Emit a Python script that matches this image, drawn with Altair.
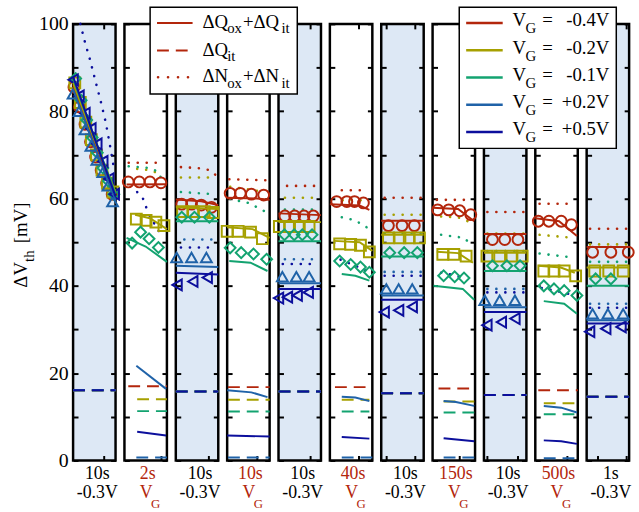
import altair as alt
import pandas as pd

# ---------------- data ----------------
VG = ["-0.4", "-0.2", "-0.1", "+0.2", "+0.5"]
VG_TEXT = ["-0.4V", "-0.2V", "-0.1V", "+0.2V", "+0.5V"]
COLORS = ["#b3260c", "#a6a000", "#13a370", "#1f62a8", "#0c0f9c"]
SHAPES = ["circle", "square", "diamond", "triangle-up", "triangle-left"]

TOP_LABELS = ["10s", "2s", "10s", "10s", "10s", "40s", "10s", "150s", "10s", "500s", "1s"]
STRESS = [False, True, False, True, False, True, False, True, False, True, False]
XTICKS = [[0.72], [0.85], [0.77], [0.69], [0.74], [0.67], [0.12, 0.8], [0.62], [0.07, 0.8], [0.75], [0.26, 0.93]]
YTICKS = [0, 10, 20, 30, 40, 50, 60, 70, 80, 90, 100]

MARKERS = [
    (0, "-0.4", [0.02, 0.15, 0.28, 0.41, 0.53, 0.66, 0.79, 0.92], [85.5, 81.0, 77.0, 73.0, 69.5, 66.5, 63.5, 61.0]),
    (0, "-0.2", [0.04, 0.17, 0.30, 0.43, 0.55, 0.68, 0.81, 0.94], [86.5, 82.0, 77.5, 73.5, 70.0, 66.5, 63.5, 61.5]),
    (0, "-0.1", [0.06, 0.19, 0.32, 0.45, 0.57, 0.70, 0.83, 0.96], [87.5, 82.5, 78.0, 74.0, 70.5, 67.0, 64.0, 61.0]),
    (0, "+0.2", [0.00, 0.14, 0.28, 0.42, 0.56, 0.70, 0.82, 0.93], [84.0, 80.0, 75.8, 72.0, 68.8, 66.0, 62.9, 59.3]),
    (0, "+0.5", [0.00, 0.14, 0.28, 0.42, 0.56, 0.70, 0.84, 0.97], [87.2, 83.5, 79.5, 76.0, 72.5, 68.5, 64.5, 61.0]),
    (1, "-0.4", [0.09, 0.35, 0.60, 0.86], [63.8, 63.8, 63.8, 63.6]),
    (1, "-0.2", [0.28, 0.51, 0.74, 0.93], [55.3, 55.0, 54.6, 53.8]),
    (1, "-0.1", [0.18, 0.38, 0.58, 0.80], [49.8, 52.3, 50.8, 48.8]),
    (2, "-0.4", [0.14, 0.37, 0.60, 0.84], [58.7, 58.7, 58.5, 58.0]),
    (2, "-0.2", [0.16, 0.40, 0.67, 0.88], [57.0, 57.0, 57.0, 56.8]),
    (2, "-0.1", [0.14, 0.44, 0.79], [55.7, 55.7, 55.7]),
    (2, "+0.2", [0.02, 0.37, 0.72], [46.5, 46.5, 46.5]),
    (2, "+0.5", [0.03, 0.40, 0.74], [40.2, 41.0, 41.9]),
    (3, "-0.4", [0.07, 0.31, 0.57, 0.86], [61.2, 61.2, 61.0, 60.8]),
    (3, "-0.2", [0.00, 0.26, 0.55, 0.83], [52.5, 52.5, 52.3, 50.8]),
    (3, "-0.1", [0.07, 0.33, 0.62, 0.93], [48.7, 47.6, 47.3, 46.1]),
    (4, "-0.4", [0.15, 0.38, 0.60, 0.82], [56.0, 56.0, 56.0, 56.0]),
    (4, "-0.2", [0.02, 0.26, 0.49, 0.72], [53.6, 53.6, 53.6, 53.6]),
    (4, "-0.1", [0.14, 0.37, 0.56, 0.79], [51.7, 51.7, 51.7, 51.7]),
    (4, "+0.2", [0.09, 0.42, 0.72], [42.1, 42.1, 42.1]),
    (4, "+0.5", [0.00, 0.21, 0.44, 0.70], [37.2, 37.4, 37.8, 38.5]),
    (5, "-0.4", [0.16, 0.40, 0.58, 0.79], [59.3, 59.3, 59.3, 59.0]),
    (5, "-0.2", [0.23, 0.49, 0.72, 0.93], [49.6, 49.5, 49.3, 47.8]),
    (5, "-0.1", [0.23, 0.49, 0.72, 0.93], [45.7, 44.9, 44.3, 43.1]),
    (6, "-0.4", [0.17, 0.49, 0.78], [53.8, 53.8, 53.8]),
    (6, "-0.2", [0.17, 0.44, 0.66, 0.90], [51.0, 51.0, 51.0, 51.0]),
    (6, "-0.1", [0.20, 0.54, 0.85], [47.6, 47.6, 47.6]),
    (6, "+0.2", [0.12, 0.41, 0.73], [39.3, 39.3, 39.3]),
    (6, "+0.5", [0.07, 0.41, 0.73], [34.0, 34.4, 35.2]),
    (7, "-0.4", [0.12, 0.38, 0.64, 0.90], [57.4, 57.4, 57.2, 56.3]),
    (7, "-0.2", [0.24, 0.50, 0.79], [47.2, 47.2, 46.8]),
    (7, "-0.1", [0.26, 0.52, 0.74], [42.3, 42.1, 41.8]),
    (8, "-0.4", [0.20, 0.49, 0.80], [50.6, 50.6, 50.6]),
    (8, "-0.2", [0.07, 0.37, 0.66, 0.90], [46.8, 46.8, 46.8, 46.8]),
    (8, "-0.1", [0.20, 0.54, 0.85], [44.6, 44.6, 44.6]),
    (8, "+0.2", [0.02, 0.37, 0.73], [36.7, 36.7, 36.7]),
    (8, "+0.5", [0.07, 0.41, 0.73], [31.0, 31.7, 32.5]),
    (9, "-0.4", [0.07, 0.32, 0.61, 0.85], [54.8, 54.8, 54.8, 54.0]),
    (9, "-0.2", [0.20, 0.44, 0.68, 0.95], [43.4, 43.4, 43.4, 42.3]),
    (9, "-0.1", [0.20, 0.44, 0.68, 0.98], [40.0, 39.3, 38.9, 37.8]),
    (10, "-0.4", [0.14, 0.57, 0.98], [47.7, 47.7, 47.7]),
    (10, "-0.2", [0.19, 0.52, 0.86], [43.4, 43.4, 43.4]),
    (10, "-0.1", [0.21, 0.57], [41.6, 41.6]),
    (10, "+0.2", [0.14, 0.50, 0.86], [33.6, 33.6, 33.6]),
    (10, "+0.5", [0.07, 0.45, 0.81], [29.5, 30.2, 30.6]),
]

# model: dQox + dQit (solid)
SOLID = [
    (0, "-0.4", [0, 0.5, 1], [86.0, 73.0, 61.0]),
    (0, "-0.2", [0, 0.5, 1], [86.5, 73.5, 61.5]),
    (0, "-0.1", [0, 0.5, 1], [87.5, 74.0, 61.0]),
    (0, "+0.2", [0, 0.5, 1], [85.0, 72.0, 59.5]),
    (0, "+0.5", [0, 0.5, 1], [88.0, 74.0, 60.5]),
    (1, "-0.4", [0.05, 1.0], [63.2, 63.3]),
    (1, "-0.2", [0.25, 0.6, 1.0], [56.3, 55.5, 53.0]),
    (1, "-0.1", [0.05, 0.5, 1.0], [51.0, 49.0, 45.5]),
    (1, "+0.2", [0.28, 0.98], [21.7, 16.4]),
    (1, "+0.5", [0.30, 0.98], [6.6, 5.7]),
    (2, "-0.4", [0, 0.6, 1], [59.8, 59.4, 58.5]),
    (2, "-0.2", [0, 1], [58.0, 57.6]),
    (2, "-0.1", [0, 1], [54.8, 54.8]),
    (2, "+0.2", [0, 1], [44.6, 44.3]),
    (2, "+0.5", [0, 1], [43.0, 42.6]),
    (3, "-0.4", [0, 0.7, 1], [60.2, 60.0, 59.7]),
    (3, "-0.2", [0, 0.6, 1], [53.4, 53.0, 51.0]),
    (3, "-0.1", [0.05, 0.55, 0.95], [45.7, 45.3, 43.4]),
    (3, "+0.2", [0, 0.57, 0.95], [16.1, 15.6, 14.5]),
    (3, "+0.5", [0, 1], [5.7, 5.5]),
    (4, "-0.4", [0, 1], [56.6, 56.2]),
    (4, "-0.2", [0, 1], [54.6, 54.6]),
    (4, "-0.1", [0, 1], [50.2, 50.2]),
    (4, "+0.2", [0, 1], [40.6, 40.6]),
    (4, "+0.5", [0, 1], [39.3, 39.3]),
    (5, "-0.4", [0, 0.7, 0.93], [58.7, 58.4, 57.4]),
    (5, "-0.2", [0.1, 0.7, 1.0], [50.3, 50.0, 48.0]),
    (5, "-0.1", [0.28, 0.6, 0.93], [42.7, 42.3, 41.2]),
    (5, "+0.2", [0.28, 0.6, 0.93], [14.6, 14.4, 13.6]),
    (5, "+0.5", [0.28, 0.93], [5.4, 5.0]),
    (6, "-0.4", [0, 1], [54.9, 54.9]),
    (6, "-0.2", [0, 1], [51.7, 51.7]),
    (6, "-0.1", [0, 1], [46.7, 46.7]),
    (6, "+0.2", [0, 1], [37.8, 37.8]),
    (6, "+0.5", [0, 1], [36.8, 36.8]),
    (7, "-0.4", [0, 0.6, 0.98], [57.9, 57.6, 54.8]),
    (7, "-0.2", [0.1, 0.6, 0.95], [47.8, 47.5, 45.3]),
    (7, "-0.1", [0.02, 0.71, 0.98], [40.0, 39.3, 36.8]),
    (7, "+0.2", [0.26, 0.55, 0.98], [13.6, 13.4, 12.5]),
    (7, "+0.5", [0.26, 0.98], [5.1, 4.4]),
    (8, "-0.4", [0, 1], [51.9, 51.9]),
    (8, "-0.2", [0, 1], [47.6, 47.6]),
    (8, "-0.1", [0, 1], [43.4, 43.4]),
    (8, "+0.2", [0, 1], [35.1, 35.1]),
    (8, "+0.5", [0, 1], [34.0, 34.0]),
    (9, "-0.4", [0, 0.56, 0.98], [55.5, 54.8, 51.4]),
    (9, "-0.2", [0.07, 0.6, 0.93], [44.6, 44.2, 43.0]),
    (9, "-0.1", [0.2, 0.68, 0.98], [36.5, 35.9, 33.6]),
    (9, "+0.2", [0.2, 0.61, 0.98], [12.5, 12.1, 11.0]),
    (9, "+0.5", [0.2, 0.61, 0.98], [4.6, 4.4, 3.8]),
    (10, "-0.4", [0, 1], [48.9, 48.9]),
    (10, "-0.2", [0, 1], [44.2, 44.2]),
    (10, "-0.1", [0, 1], [40.0, 40.0]),
    (10, "+0.2", [0, 1], [32.1, 32.1]),
    (10, "+0.5", [0, 1], [31.4, 31.4]),
]

# model: dQit (dashed) during stress
DASHED = [
    (1, "-0.4", [0.09, 1], [17.0, 17.0]), (1, "-0.2", [0.30, 1], [14.0, 14.0]),
    (1, "-0.1", [0.30, 1], [11.3, 11.3]), (1, "+0.2", [0.28, 1], [0.7, 0.7]),
    (3, "-0.4", [0.02, 1], [16.8, 16.8]), (3, "-0.2", [0.02, 1], [13.9, 13.9]),
    (3, "-0.1", [0.02, 1], [11.2, 11.2]), (3, "+0.2", [0.02, 1], [0.7, 0.7]),
    (5, "-0.4", [0.12, 0.84], [16.8, 16.8]), (5, "-0.2", [0.28, 0.93], [13.9, 13.9]),
    (5, "-0.1", [0.28, 0.93], [11.2, 11.2]), (5, "+0.2", [0.28, 1], [0.7, 0.7]),
    (7, "-0.4", [0.14, 0.86], [16.5, 16.5]), (7, "-0.2", [0.26, 1], [13.5, 13.5]),
    (7, "-0.1", [0.26, 1], [11.0, 11.0]), (7, "+0.2", [0.26, 1], [0.7, 0.7]),
    (9, "-0.4", [0.07, 1], [16.1, 16.1]), (9, "-0.2", [0.2, 0.98], [13.1, 13.1]),
    (9, "-0.1", [0.2, 0.98], [10.6, 10.6]), (9, "+0.2", [0.2, 0.98], [0.5, 0.5]),
]
# dQit during the -0.3V recovery phases (same for every stress voltage)
DASHED_RECOVERY = {0: 16.1, 2: 15.8, 4: 15.8, 6: 15.4, 8: 15.0, 10: 14.6}

# model: dNox + dNit (dotted)
DOTTED = [
    (0, "+0.5", [0.17, 0.28, 0.39, 0.56, 0.66, 0.77, 0.87, 0.95], [100.0, 95.8, 92.1, 85.7, 81.9, 77.4, 72.1, 67.6]),
    (1, "-0.4", [0.10, 0.85], [68.2, 68.2]),
    (1, "-0.2", [0.30, 0.60, 0.90], [66.8, 66.5, 65.4]),
    (1, "-0.1", [0.10, 0.60, 0.80, 0.90], [67.4, 67.0, 66.1, 63.8]),
    (1, "+0.5", [0.30, 0.45, 0.56, 0.67, 0.79, 0.88], [61.5, 59.8, 56.6, 54.8, 52.9, 51.0]),
    (2, "-0.4", [0.12, 0.50, 0.80, 0.95], [67.2, 67.0, 66.5, 65.3]),
    (2, "-0.2", [0.12, 0.90], [64.8, 64.8]),
    (2, "-0.1", [0.12, 0.90], [61.5, 61.0]),
    (2, "+0.2", [0.20, 0.90], [50.6, 50.6]),
    (2, "+0.5", [0.12, 0.90], [48.8, 48.8]),
    (3, "-0.4", [0.05, 0.90], [64.4, 64.2]),
    (3, "-0.2", [0.07, 0.90], [62.7, 61.5]),
    (3, "-0.1", [0.07, 0.50, 0.90], [59.9, 59.0, 57.0]),
    (4, "-0.4", [0.20, 0.90], [62.9, 62.9]),
    (4, "-0.2", [0.15, 0.90], [60.2, 60.2]),
    (4, "-0.1", [0.15, 0.90], [57.5, 57.5]),
    (4, "+0.2", [0.15, 0.90], [46.1, 46.1]),
    (4, "+0.5", [0.10, 0.90], [45.0, 45.0]),
    (5, "-0.4", [0.28, 0.82], [61.9, 61.9]),
    (5, "-0.2", [0.30, 0.90], [59.6, 59.6]),
    (5, "-0.1", [0.28, 0.60, 0.90], [55.7, 55.0, 53.2]),
    (5, "+0.5", [0.25, 0.50, 0.75, 0.93], [46.0, 45.0, 44.0, 43.0]),
    (6, "-0.4", [0.08, 0.95], [60.2, 60.2]),
    (6, "-0.2", [0.08, 0.95], [56.3, 56.3]),
    (6, "-0.1", [0.08, 0.95], [52.1, 52.1]),
    (6, "+0.2", [0.08, 0.95], [43.2, 43.2]),
    (6, "+0.5", [0.08, 0.95], [42.3, 42.3]),
    (7, "-0.4", [0.10, 0.90], [59.7, 59.7]),
    (7, "-0.2", [0.20, 0.60, 0.83], [55.9, 55.7, 54.8]),
    (7, "-0.1", [0.20, 0.74, 0.85], [51.7, 51.0, 50.0]),
    (7, "+0.5", [0.20, 0.50, 0.80], [43.0, 42.5, 41.5]),
    (8, "-0.4", [0.08, 0.95], [56.9, 56.9]),
    (8, "-0.2", [0.08, 0.95], [52.0, 52.0]),
    (8, "-0.1", [0.08, 0.95], [48.0, 48.0]),
    (8, "+0.2", [0.08, 0.95], [39.3, 39.3]),
    (8, "+0.5", [0.08, 0.95], [38.5, 38.5]),
    (9, "-0.4", [0.10, 0.90], [58.8, 58.8]),
    (9, "-0.2", [0.10, 0.90], [51.7, 51.0]),
    (9, "-0.1", [0.10, 0.88], [47.4, 46.5]),
    (9, "+0.5", [0.15, 0.50, 0.85], [39.5, 38.8, 38.0]),
    (10, "-0.4", [0.08, 0.95], [53.1, 53.1]),
    (10, "-0.2", [0.08, 0.95], [49.5, 49.5]),
    (10, "-0.1", [0.08, 0.95], [45.5, 45.5]),
    (10, "+0.2", [0.08, 0.95], [35.9, 35.9]),
    (10, "+0.5", [0.08, 0.95], [35.0, 35.0]),
]

# ---------------- layout / style ----------------
FONT = "Liberation Serif"
W, H, GAP = 43, 442, 9
FILL_REC = "#dde8f5"
RED = COLORS[0]
DUMMY = pd.DataFrame({"d": [0]})

for k, lvl in DASHED_RECOVERY.items():
    for vg in VG:
        DASHED.append((k, vg, [0, 1], [lvl, lvl]))


def rows_df(rows, k):
    recs = []
    for p, vg, xs, ys in rows:
        if p == k:
            for x, y in zip(xs, ys):
                recs.append({"vg": vg, "x": x, "y": y})
    return pd.DataFrame(recs, columns=["vg", "x", "y"])


def txt(text, x, y, size=20, color="black", align="left", angle=0):
    return alt.Chart(DUMMY).mark_text(
        text=text, font=FONT, fontSize=size, color=color, align=align,
        baseline="alphabetic", angle=angle
    ).encode(x=alt.value(x), y=alt.value(y))


def hline(x1, x2, y, color, dash=None, width=2.0, cap="butt"):
    kw = dict(color=color, strokeWidth=width, strokeCap=cap)
    if dash is not None:
        kw["strokeDash"] = dash
    return alt.Chart(DUMMY).mark_rule(**kw).encode(
        x=alt.value(x1), x2=alt.value(x2), y=alt.value(y))


def box(x1, y1, x2, y2):
    return alt.Chart(DUMMY).mark_rect(fill="white", stroke="black", strokeWidth=1.5).encode(
        x=alt.value(x1), x2=alt.value(x2), y=alt.value(y1), y2=alt.value(y2))


XS = alt.Scale(domain=[0, 1], nice=False, zero=False)
YS = alt.Scale(domain=[0, 100], nice=False, zero=False)
COL = alt.Color("vg:N", scale=alt.Scale(domain=VG, range=COLORS), legend=None)
SHP = alt.Shape("vg:N", scale=alt.Scale(domain=VG, range=SHAPES), legend=None)
DASH = [12, 7]
DOT = [0.1, 9]

PANEL_Y0 = 20
LEFT0 = 72


def make_panel(k):
    x0 = LEFT0 + k * (W + GAP)   # absolute left of this panel (for decorations)
    tick_kw = dict(offset=-5, tickSize=5, tickWidth=2, tickColor="black",
                   domain=False, grid=False, title=None)
    ax_b = alt.Axis(orient="bottom", values=XTICKS[k], labels=False, **tick_kw)
    ax_t = alt.Axis(orient="top", values=XTICKS[k], labels=False, **tick_kw)
    if k == 0:
        ay_l = alt.Axis(orient="left", values=YTICKS, labels=True,
                        labelExpr="datum.value % 20 === 0 ? datum.label : ''",
                        labelFont=FONT, labelFontSize=20, labelColor="black",
                        labelPadding=5, **tick_kw)
    else:
        ay_l = alt.Axis(orient="left", values=YTICKS, labels=False, **tick_kw)
    ay_r = alt.Axis(orient="right", values=YTICKS, labels=False, **tick_kw)

    mk = rows_df(MARKERS, k)
    X = alt.X("x:Q", scale=XS, axis=None)
    Y = alt.Y("y:Q", scale=YS, axis=None)

    layers = [
        alt.Chart(mk).mark_point(opacity=0).encode(
            x=alt.X("x:Q", scale=XS, axis=ax_b), y=alt.Y("y:Q", scale=YS, axis=ay_l)),
        alt.Chart(mk).mark_point(opacity=0).encode(
            x=alt.X("x:Q", scale=XS, axis=ax_t), y=alt.Y("y:Q", scale=YS, axis=ay_r)),
        alt.Chart(rows_df(DASHED, k)).mark_line(strokeDash=DASH, strokeWidth=2).encode(x=X, y=Y, color=COL),
        alt.Chart(rows_df(DOTTED, k)).mark_line(strokeDash=DOT, strokeWidth=2.6, strokeCap="round").encode(x=X, y=Y, color=COL),
        alt.Chart(mk).mark_point(filled=False, size=120, strokeWidth=2, opacity=1).encode(x=X, y=Y, color=COL, shape=SHP),
        alt.Chart(rows_df(SOLID, k)).mark_line(strokeWidth=2).encode(x=X, y=Y, color=COL),
    ]

    # bottom labels (duration, then gate voltage)
    c = W / 2
    if STRESS[k]:
        layers.append(txt(TOP_LABELS[k], c + 2, H + 19, size=18, color=RED, align="center"))
        layers.append(txt("V", c - 6, H + 38, size=18, color=RED))
        layers.append(txt("G", c + 5.5, H + 48, size=13, color=RED))
    else:
        layers.append(txt(TOP_LABELS[k], c + 3, H + 19, size=18, align="center"))
        layers.append(txt("-0.3V", c + 3, H + 38, size=18, align="center"))

    if k == 0:
        # y-axis title  ΔV_th [mV]
        layers.append(txt("\u0394V", 25 - x0, 287 - PANEL_Y0, size=19, angle=270))
        layers.append(txt("th", 32 - x0, 261 - PANEL_Y0, size=15, angle=270))
        layers.append(txt("[mV]", 25 - x0, 242 - PANEL_Y0, size=19, angle=270))

    if k == 10:
        # legend 1 : model components
        layers.append(box(150 - x0, 3 - PANEL_Y0, 299 - x0, 91 - PANEL_Y0))
        rows1 = [
            (19, None, [("\u0394Q", 203, 0), ("ox", 228, 1), ("+\u0394Q", 244, 0), ("it", 283, 1)]),
            (47, DASH, [("\u0394Q", 203, 0), ("it", 228, 1)]),
            (74, "dot", [("\u0394N", 203, 0), ("ox", 228, 1), ("+\u0394N", 244, 0), ("it", 283, 1)]),
        ]
        for ly, dash, pieces in rows1:
            if dash == "dot":
                layers.append(hline(158 - x0, 193 - x0, ly - PANEL_Y0, RED, dash=[0.1, 10], width=2.6, cap="round"))
            else:
                layers.append(hline(157 - x0, 193 - x0, ly - PANEL_Y0, RED, dash=dash))
            for t, px, sub in pieces:
                if sub:
                    layers.append(txt(t, px - x0, ly + 10.5 - PANEL_Y0, size=15))
                else:
                    layers.append(txt(t, px - x0, ly + 5 - PANEL_Y0, size=19))
        # legend 2 : stress voltages
        layers.append(box(463 - x0, 3 - PANEL_Y0, 622 - x0, 146 - PANEL_Y0))
        for i, (col, lab) in enumerate(zip(COLORS, VG_TEXT)):
            ly = 19 + 27.6 * i
            layers.append(hline(470 - x0, 507 - x0, ly - PANEL_Y0, col, width=2.5))
            layers.append(txt("V", 517 - x0, ly + 3.5 - PANEL_Y0, size=19))
            layers.append(txt("G", 530 - x0, ly + 10.5 - PANEL_Y0, size=15))
            layers.append(txt("=", 547 - x0, ly + 3.5 - PANEL_Y0, size=19))
            layers.append(txt(lab, 615 - x0, ly + 3.5 - PANEL_Y0, size=19, align="right"))

    fill = "white" if STRESS[k] else FILL_REC
    return alt.layer(*layers).resolve_scale(x="shared", y="shared").resolve_axis(
        x="independent", y="independent").properties(
        width=W, height=H,
        view=alt.ViewBackground(fill=fill, stroke="black", strokeWidth=2.5))


panels = [make_panel(k) for k in range(11)]
chart = alt.hconcat(*panels, spacing=GAP, bounds="flush").properties(
    padding={"left": 10, "top": 2, "right": 0, "bottom": 0},
    background="white",
).configure_view(stroke="black", strokeWidth=2.5)

chart.save("out.html", embed_options={"renderer": "svg", "actions": False})
